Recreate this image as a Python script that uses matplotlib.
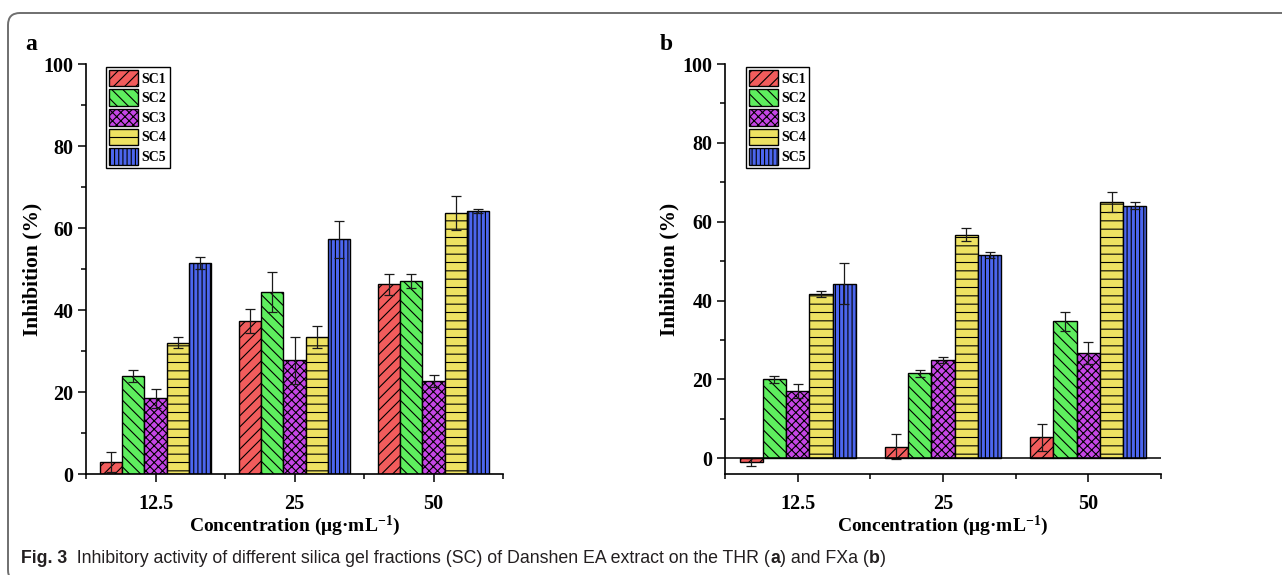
"""
Inhibitory activity of silica gel fractions (SC) of Danshen EA extract
on THR (a) and FXa (b) - grouped bar chart with error bars
"""

import matplotlib
matplotlib.use('Agg')
import matplotlib.pyplot as plt
from matplotlib.patches import FancyBboxPatch
from matplotlib.transforms import IdentityTransform
from matplotlib.ticker import MultipleLocator
import numpy as np

# ============================================================
# Global config
# ============================================================
plt.rcParams['font.family'] = ['Liberation Serif', 'DejaVu Serif']
plt.rcParams['font.weight'] = 'bold'
plt.rcParams['mathtext.fontset'] = 'custom'
plt.rcParams['mathtext.rm'] = 'Liberation Serif:bold'
plt.rcParams['mathtext.bf'] = 'Liberation Serif:bold'
plt.rcParams['mathtext.it'] = 'Liberation Serif:bold:italic'
plt.rcParams['hatch.linewidth'] = 0.8

CAPTION_FONT = ['Liberation Sans', 'DejaVu Sans']

# ============================================================
# Data
# ============================================================
concentrations = ['12.5', '25', '50']
fractions = ['SC1', 'SC2', 'SC3', 'SC4', 'SC5']

# (a) THR
thr_sc1 = [2.9, 37.4, 46.3]
thr_sc2 = [23.9, 44.3, 47.1]
thr_sc3 = [18.5, 27.7, 22.6]
thr_sc4 = [32.0, 33.5, 63.7]
thr_sc5 = [51.4, 57.2, 64.2]
thr_sc1_sd = [2.5, 2.9, 2.6]
thr_sc2_sd = [1.5, 4.9, 1.8]
thr_sc3_sd = [2.3, 5.8, 1.5]
thr_sc4_sd = [1.3, 2.7, 4.2]
thr_sc5_sd = [1.5, 4.5, 0.5]

# (b) FXa
fxa_sc1 = [-0.9, 2.9, 5.3]
fxa_sc2 = [20.0, 21.5, 34.8]
fxa_sc3 = [17.1, 24.9, 26.7]
fxa_sc4 = [41.6, 56.7, 65.0]
fxa_sc5 = [44.3, 51.5, 64.1]
fxa_sc1_sd = [1.0, 3.2, 3.5]
fxa_sc2_sd = [0.8, 0.9, 2.4]
fxa_sc3_sd = [1.7, 0.8, 2.8]
fxa_sc4_sd = [0.8, 1.7, 2.6]
fxa_sc5_sd = [5.3, 0.7, 0.8]

# style
COLORS = ['#F25C5C', '#5EEE5E', '#C646E6', '#EEE262', '#4C66EE']
HATCHES = ['///', '\\\\\\', 'xxxx', '--', '||||']


def draw_panel(ax, means, sds, ylim, zero_line=False):
    """one grouped bar panel"""
    x = np.arange(len(concentrations))
    width = 0.16
    offsets = (np.arange(len(fractions)) - 2) * width

    for i, name in enumerate(fractions):
        ax.bar(x + offsets[i], means[i], width, color=COLORS[i], hatch=HATCHES[i],
               edgecolor='black', linewidth=1.0, label=name, yerr=sds[i],
               error_kw=dict(ecolor='#1a1a1a', elinewidth=0.9, capsize=3.5, capthick=0.9),
               zorder=2)

    if zero_line:
        ax.axhline(0, color='black', linewidth=1.1, zorder=3)

    ax.set_xlim(-0.5, 2.5)
    ax.set_ylim(*ylim)
    ax.set_xticks(x, concentrations)
    ax.set_xticks([-0.5, 0.5, 1.5, 2.5], minor=True)
    ax.set_yticks(range(0, 101, 20))
    ax.yaxis.set_minor_locator(MultipleLocator(10))

    ax.tick_params(axis='both', which='major', direction='out', length=5.5, width=1.1,
                   labelsize=14.5)
    ax.tick_params(axis='both', which='minor', direction='out', length=3.5, width=1.1)
    ax.tick_params(axis='x', which='both', pad=9)
    ax.tick_params(axis='y', which='major', pad=3.5)

    for side in ['top', 'right']:
        ax.spines[side].set_visible(False)
    for side in ['left', 'bottom']:
        ax.spines[side].set_linewidth(1.2)

    ax.set_ylabel('Inhibition (%)', fontsize=15.5, fontweight='bold', va='center')
    ax.yaxis.set_label_coords(-0.128, 0.5)
    ax.set_xlabel('Concentration (μg·mL$^{-1}$)', fontsize=14, fontweight='bold',
                  va='center')
    ax.xaxis.set_label_coords(0.5, -0.126)

    leg = ax.legend(loc='upper left', bbox_to_anchor=(0.048, 0.993), borderaxespad=0,
                    fontsize=10, handlelength=2.1, handleheight=1.45,
                    labelspacing=0.22, handletextpad=0.25, borderpad=0.22,
                    fancybox=False, framealpha=1, edgecolor='black')
    leg.get_frame().set_linewidth(1.0)
    for t in leg.get_texts():
        t.set_fontweight('bold')


# ============================================================
# Figure
# ============================================================
W, H = 1282, 575
fig = plt.figure(figsize=(W / 100, H / 100), dpi=100)

ax_a = fig.add_axes([86 / W, (H - 474) / H, (503 - 86) / W, (474 - 64) / H])
ax_b = fig.add_axes([725 / W, (H - 474) / H, (1161 - 725) / W, (474 - 64) / H])

draw_panel(ax_a,
           [thr_sc1, thr_sc2, thr_sc3, thr_sc4, thr_sc5],
           [thr_sc1_sd, thr_sc2_sd, thr_sc3_sd, thr_sc4_sd, thr_sc5_sd],
           (0, 100))
draw_panel(ax_b,
           [fxa_sc1, fxa_sc2, fxa_sc3, fxa_sc4, fxa_sc5],
           [fxa_sc1_sd, fxa_sc2_sd, fxa_sc3_sd, fxa_sc4_sd, fxa_sc5_sd],
           (-4, 100), zero_line=True)

# panel letters
fig.text(25 / W, 1 - 50.5 / H, 'a', fontsize=17, fontweight='bold', va='baseline')
fig.text(660 / W, 1 - 50.5 / H, 'b', fontsize=17, fontweight='bold', va='baseline')

# rounded frame (only top and left edges fall inside the image)
frame = FancyBboxPatch((8, H - 582), 1400, 569, boxstyle='round,pad=0,rounding_size=12',
                       transform=IdentityTransform(), facecolor='none',
                       edgecolor='#6f6f6f', linewidth=1.4)
fig.add_artist(frame)

# caption, chained piece by piece so that a / b can be bold
cap_kw = dict(fontsize=12.8, color='#231f20', family=CAPTION_FONT, va='bottom', ha='left')
t = fig.text(21 / W, 8 / H, 'Fig. 3', fontweight='bold', **cap_kw)
pieces = [('  Inhibitory activity of different silica gel fractions (SC) of Danshen EA '
           'extract on the THR (', 'normal'),
          ('a', 'bold'), (') and FXa (', 'normal'), ('b', 'bold'), (')', 'normal')]
for txt, wt in pieces:
    t = ax_b.annotate(txt, xy=(1, 0), xycoords=t, annotation_clip=False,
                      fontweight=wt, **cap_kw)

fig.savefig('out.png', dpi=100)
plt.close(fig)
